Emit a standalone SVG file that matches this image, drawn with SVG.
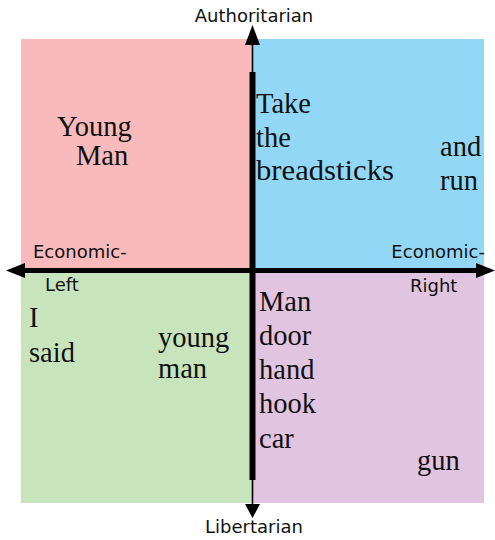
<svg xmlns="http://www.w3.org/2000/svg" width="495" height="540" viewBox="0 0 495 540">
<style>
.q{font-family:"Liberation Serif",serif;font-size:28.5px;fill:#111}
.ax{font-family:"DejaVu Sans",sans-serif;font-size:18px;fill:#111}
.ec{font-family:"DejaVu Sans",sans-serif;font-size:18px;fill:#111}
</style>
<rect width="495" height="540" fill="#fff"/>
<g id="quadrant-auth-left"><rect x="21" y="39" width="231" height="231" fill="#f8baba"/>
<text class="q" x="57" y="136">Young</text><text class="q" x="76" y="165">Man</text></g>
<g id="quadrant-auth-right"><rect x="252" y="39" width="232" height="231" fill="#92d8f6"/>
<text class="q" x="256" y="113">Take</text><text class="q" x="256" y="147">the</text><text class="q" x="256" y="180" textLength="138" lengthAdjust="spacingAndGlyphs">breadsticks</text>
<text class="q" x="440" y="156">and</text><text class="q" x="440" y="190">run</text></g>
<g id="quadrant-lib-left"><rect x="21" y="270" width="231" height="233" fill="#c8e4bc"/>
<text class="q" x="29" y="327">I</text><text class="q" x="29" y="362">said</text>
<text class="q" x="158" y="347">young</text><text class="q" x="158" y="378">man</text></g>
<g id="quadrant-lib-right"><rect x="252" y="270" width="232" height="233" fill="#e0c4e0"/>
<text class="q" x="259" y="311">Man</text><text class="q" x="259" y="345">door</text><text class="q" x="259" y="379">hand</text><text class="q" x="259" y="413">hook</text><text class="q" x="259" y="448">car</text>
<text class="q" x="417" y="470">gun</text></g>
<g id="labels">
<text class="ax" x="254" y="22" text-anchor="middle">Authoritarian</text>
<text class="ax" x="254" y="533" text-anchor="middle">Libertarian</text>
<text class="ec" x="33" y="258">Economic-</text>
<text class="ec" x="45" y="291">Left</text>
<text class="ec" x="485" y="258" text-anchor="end">Economic-</text>
<text class="ec" x="410" y="292">Right</text>
</g>
<g id="connectors">
<line x1="252.5" y1="44" x2="252.5" y2="506" stroke="#000" stroke-width="1.6"/>
<rect x="249.5" y="72" width="6" height="408" fill="#000"/>
<polygon points="252.5,25 245,45 260,45" fill="#000"/>
<polygon points="252.5,518 245,504 260,504" fill="#000"/>
<line x1="20" y1="270.5" x2="482" y2="270.5" stroke="#000" stroke-width="5"/>
<polygon points="6,270.5 25,263 25,278" fill="#000"/>
<polygon points="495,270.5 476,263 476,278" fill="#000"/>
</g>
</svg>
